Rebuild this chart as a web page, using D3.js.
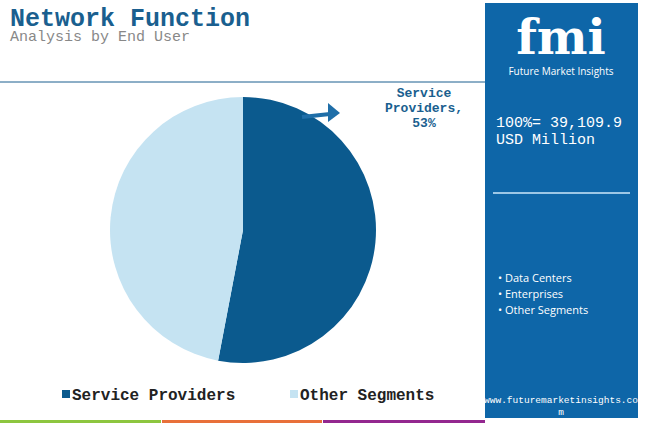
<!DOCTYPE html><html><head><meta charset="utf-8"><script src="https://cdn.jsdelivr.net/npm/d3@7"></script>
<style>body{margin:0;background:#fff}</style></head><body><svg id="c" width="650" height="427"></svg>
<script>
const categories=["Service Providers","Other Segments"];
const values=[53,47];
const colors=["#0b5a8e","#c5e3f2"];
const sideItems=["Data Centers","Enterprises","Other Segments"];
const svg=d3.select("#c");
const mono="'Liberation Mono','DejaVu Sans Mono',monospace";
svg.append("text").attr("x",10).attr("y",26).attr("font-family",mono).attr("font-weight","bold").attr("font-size",25).attr("fill","#1a5f8f").text("Network Function");
svg.append("text").attr("x",10).attr("y",41).attr("font-family",mono).attr("font-size",15).attr("fill","#888").text("Analysis by End User");
svg.append("line").attr("x1",0).attr("x2",485).attr("y1",82).attr("y2",82).attr("stroke","#1a5f8f").attr("stroke-width",1);
const pie=d3.pie().sort(null)(values);
const arc=d3.arc().innerRadius(0).outerRadius(133);
const g=svg.append("g").attr("transform","translate(243,230)");
g.selectAll("path").data(pie).join("path").attr("d",arc).attr("fill",(d,i)=>colors[i]);
svg.append("line").attr("x1",302).attr("y1",117).attr("x2",330).attr("y2",114).attr("stroke","#1f6ea8").attr("stroke-width",4);
svg.append("path").attr("d","M328,103 L340,113 L328,122 Z").attr("fill","#1f6ea8");
const lab=svg.append("text").attr("font-family",mono).attr("font-weight","bold").attr("font-size",13).attr("fill","#1a5f8f").attr("text-anchor","middle");
["Service","Providers,",values[0]+"%"].forEach((t,i)=>lab.append("tspan").attr("x",424).attr("y",97+i*15).text(t));
const leg=[[62,"Service Providers"],[290,"Other Segments"]];
leg.forEach(([x,t],i)=>{svg.append("rect").attr("x",x).attr("y",390).attr("width",8).attr("height",8).attr("fill",colors[i]);
svg.append("text").attr("x",x+10).attr("y",400).attr("font-family",mono).attr("font-weight","bold").attr("font-size",16).attr("fill","#222").text(categories[i]);});
[["#8dc63f",0,161],["#e8703a",162,322],["#93278f",323,485]].forEach(([c,a,b])=>svg.append("rect").attr("x",a).attr("y",420).attr("width",b-a).attr("height",3).attr("fill",c));
svg.append("rect").attr("x",485).attr("y",3).attr("width",153).attr("height",415).attr("fill","#0e66a8");
svg.append("text").attr("x",561).attr("y",54).attr("text-anchor","middle").attr("font-family","DejaVu Serif,serif").attr("font-weight","bold").attr("font-size",48).attr("fill","#fff").text("fmi");
svg.append("text").attr("x",561).attr("y",75).attr("text-anchor","middle").attr("font-family","'Open Sans',sans-serif").attr("font-size",10).attr("fill","#fff").text("Future Market Insights");
svg.append("text").attr("x",496).attr("y",127).attr("font-family",mono).attr("font-size",15).attr("fill","#fff").text("100%= 39,109.9");
svg.append("text").attr("x",496).attr("y",144).attr("font-family",mono).attr("font-size",15).attr("fill","#fff").text("USD Million");
svg.append("line").attr("x1",493).attr("x2",630).attr("y1",193).attr("y2",193).attr("stroke","#9cc7e6").attr("stroke-width",2);
sideItems.forEach((t,i)=>svg.append("text").attr("x",498).attr("y",282+i*16).attr("font-family","'Open Sans',sans-serif").attr("font-size",11).attr("fill","#fff").text("• "+t));
svg.append("text").attr("x",561).attr("y",403).attr("text-anchor","middle").attr("font-family",mono).attr("font-size",9.5).attr("fill","#fff").text("www.futuremarketinsights.co");
svg.append("text").attr("x",561).attr("y",415).attr("text-anchor","middle").attr("font-family",mono).attr("font-size",9.5).attr("fill","#fff").text("m");
</script></body></html>
